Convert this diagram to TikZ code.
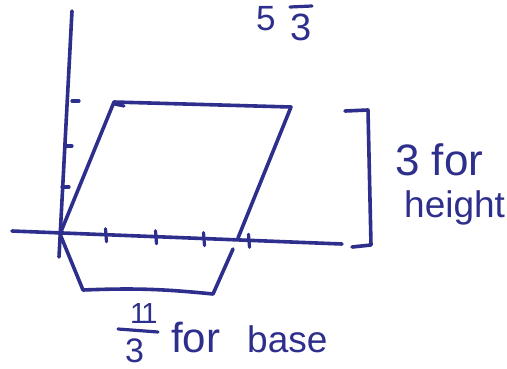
\documentclass[tikz,border=0pt]{standalone}
\usepackage{fontspec}
\setmainfont{Liberation Sans}
\definecolor{ink}{RGB}{46,46,140}
\begin{document}
\begin{tikzpicture}[x=1pt,y=-1pt,
  inkline/.style={draw=ink, line width=3.6pt, line cap=round, line join=round},
  tickline/.style={draw=ink, line width=3.2pt, line cap=round},
  hand/.style={text=ink, inner sep=0pt, anchor=base west}]
\useasboundingbox (0,0) rectangle (507,368);
% axes
\coordinate (ytop) at (72,11);
\coordinate (ybot) at (59,257);
\coordinate (xl) at (12,231);
\coordinate (xr) at (342,244);
\draw[inkline] (ytop) -- (ybot);
\draw[inkline] (xl) -- (xr);
% axis ticks
\foreach \x/\y [count=\i] in {106/234.7,156/236.7,204/238.6,249/240.3}{
  \coordinate (xt\i a) at (\x-0.5,\y-6);
  \coordinate (xt\i b) at (\x+0.5,\y+7);
  \draw[tickline] (xt\i a) -- (xt\i b);
}
\foreach \x/\y [count=\i] in {72/101,65/146,62/187}{
  \coordinate (yt\i a) at (\x,\y);
  \coordinate (yt\i b) at (\x+7,\y);
  \draw[tickline] (yt\i a) -- (yt\i b);
}
% parallelogram
\coordinate (O) at (60,234);
\coordinate (A) at (114,102);
\coordinate (B) at (291,107);
\coordinate (C) at (238,238);
\draw[inkline] (O) -- (A) -- (B) -- (C);
\coordinate (hk1) at (114,104);
\coordinate (hk2) at (124,106);
\draw[tickline] (hk1) -- (hk2);
% lower shape
\coordinate (L1) at (83,290);
\coordinate (L2) at (213,294);
\coordinate (L3) at (233,249);
\draw[inkline] (O) -- (L1) to[bend left=4] (L2) -- (L3);
% bracket
\coordinate (br1) at (345,111);
\coordinate (br2) at (368,110);
\coordinate (br3) at (371,245);
\coordinate (br4) at (352,247);
\draw[inkline] (br1) -- (br2) -- (br3) -- (br4);
% top label
\node[hand, font=\fontsize{35}{35}\selectfont] (five) at (256,30) {5};
\node[hand, font=\fontsize{38}{38}\selectfont] (three) at (290,40) {3};
\coordinate (ob1) at (290,7);
\coordinate (ob2) at (312,6);
\draw[tickline] (ob1) -- (ob2);
% height label
\node[hand, font=\fontsize{44}{44}\selectfont] (hlab1) at (395,175) {3 for};
\node[hand, font=\fontsize{37}{37}\selectfont] (hlab2) at (404,217) {height};
% base label
\node[hand, font=\fontsize{29}{29}\selectfont] (num) at (130,323) {1\kern-5pt 1};
\coordinate (fb1) at (118,329);
\coordinate (fb2) at (158,332);
\draw[tickline] (fb1) -- (fb2);
\node[hand, font=\fontsize{34}{34}\selectfont] (den) at (125,362) {3};
\node[hand, font=\fontsize{42}{42}\selectfont] (for) at (171,352) {for};
\node[hand, font=\fontsize{37}{37}\selectfont] (base) at (247,352) {base};
\end{tikzpicture}
\end{document}
